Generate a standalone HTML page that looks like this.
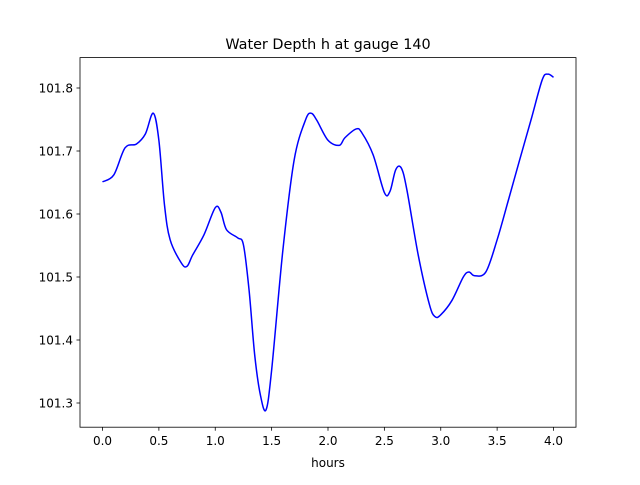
<!DOCTYPE html>
<html><head><meta charset="utf-8"><style>
body{margin:0;background:#fff;}
svg text{font-family:"DejaVu Sans","Liberation Sans",sans-serif;fill:#000;}
</style></head><body>
<svg id="chart" width="640" height="480" viewBox="0 0 640 480" xmlns="http://www.w3.org/2000/svg">
<rect width="640" height="480" fill="#fff"/>
<text x="328" y="49" text-anchor="middle" font-size="14.4">Water Depth h at gauge 140</text>
<g id="plot"></g>
<rect x="80" y="57.6" width="496" height="369.6" fill="none" stroke="#000" stroke-width="0.8"/>
<text x="328" y="467" text-anchor="middle" font-size="12">hours</text>
</svg>
<script>
const times=[0,0.1,0.2,0.3,0.38,0.45,0.5,0.55,0.6,0.7,0.75,0.8,0.9,1.0,1.05,1.1,1.2,1.25,1.3,1.35,1.4,1.45,1.5,1.6,1.7,1.8,1.85,1.9,2.0,2.1,2.15,2.25,2.3,2.4,2.5,2.55,2.6,2.65,2.7,2.8,2.9,2.95,3.0,3.1,3.2,3.25,3.3,3.4,3.5,3.6,3.7,3.8,3.9,3.95,4.0];
const depth=[101.651,101.662,101.705,101.711,101.727,101.760,101.717,101.614,101.559,101.522,101.517,101.535,101.567,101.610,101.603,101.575,101.562,101.551,101.479,101.376,101.313,101.289,101.352,101.543,101.686,101.749,101.760,101.749,101.717,101.709,101.721,101.735,101.729,101.694,101.634,101.636,101.670,101.673,101.638,101.535,101.456,101.437,101.440,101.463,101.500,101.508,101.502,101.508,101.559,101.622,101.686,101.749,101.813,101.822,101.817];
const xTicks=[0,0.5,1,1.5,2,2.5,3,3.5,4];
const xTickLabels=["0.0","0.5","1.0","1.5","2.0","2.5","3.0","3.5","4.0"];
const yTicks=[101.3,101.4,101.5,101.6,101.7,101.8];
const yTickLabels=["101.3","101.4","101.5","101.6","101.7","101.8"];
const NS="http://www.w3.org/2000/svg";
const g=document.getElementById('plot');
const X=t=>102.5+t*112.75;
const Y=v=>88-(v-101.8)*630;
function mk(tag,attrs){const e=document.createElementNS(NS,tag);for(const k in attrs)e.setAttribute(k,attrs[k]);g.appendChild(e);return e;}
xTicks.forEach((t,i)=>{
  const l=mk('line',{x1:X(t),x2:X(t),y1:427.2,y2:430.7,stroke:'#000','stroke-width':0.8});
  
  
  const tx=mk('text',{x:X(t),y:445,'text-anchor':'middle','font-size':12});
  tx.textContent=xTickLabels[i];
  
  
});
yTicks.forEach((v,i)=>{
  const l=mk('line',{x1:76.5,x2:80,y1:Y(v),y2:Y(v),stroke:'#000','stroke-width':0.8});
  
  
  const tx=mk('text',{x:73,y:Y(v)+4.5,'text-anchor':'end','font-size':12});
  tx.textContent=yTickLabels[i];
  
  
});
const P=times.map((t,i)=>[X(t),Y(depth[i])]);
let d='M'+P[0][0]+','+P[0][1];
for(let i=0;i<P.length-1;i++){
  const p0=P[Math.max(0,i-1)],p1=P[i],p2=P[i+1],p3=P[Math.min(P.length-1,i+2)];
  const c1=[p1[0]+(p2[0]-p0[0])/6,p1[1]+(p2[1]-p0[1])/6];
  const c2=[p2[0]-(p3[0]-p1[0])/6,p2[1]-(p3[1]-p1[1])/6];
  d+=' C'+c1[0]+','+c1[1]+' '+c2[0]+','+c2[1]+' '+p2[0]+','+p2[1];
}
const line=mk('path',{d:d,fill:'none',stroke:'#0000ff','stroke-width':1.5});


</script>
</body></html>
